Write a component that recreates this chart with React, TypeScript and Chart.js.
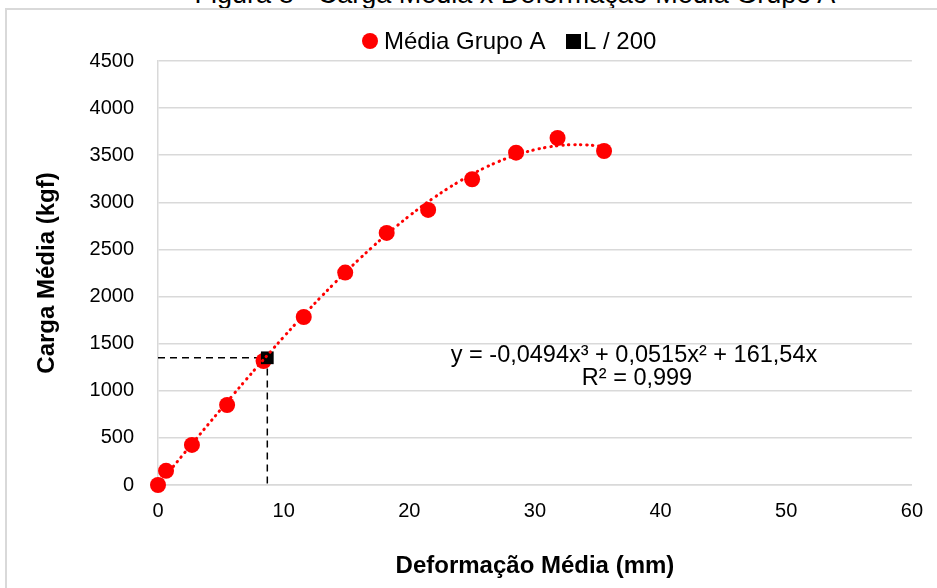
import React, { useEffect, useRef } from "react";
import { Chart, registerables } from "chart.js";

Chart.register(...registerables);

// Data
const deformacao = [0, 0.64, 2.7, 5.5, 8.4, 11.6, 14.9, 18.2, 21.5, 25.0, 28.5, 31.8, 35.5];
const carga = [0, 150, 425, 849, 1316, 1783, 2254, 2675, 2919, 3245, 3527, 3683, 3545];
const l200X = [8.7];
const l200Y = [1350];
// Trendline printed on the chart: y = -0,0494x³ + 0,0515x² + 161,54x
const trendCoeffs = [-0.0494, 0.0515, 161.54];
const trendXs = [0, 1, 2, 3, 4, 5, 6, 7, 8, 9, 10, 11, 12, 13, 14, 15, 16, 17, 18, 19, 20, 21, 22, 23, 24, 25, 26, 27, 28, 29, 30, 31, 32, 33, 34, 35, 35.5];
const xTicks = [0, 10, 20, 30, 40, 50, 60];
const yTicks = [0, 500, 1000, 1500, 2000, 2500, 3000, 3500, 4000, 4500];

const legendLabels = ["Média Grupo A", "L / 200"];
const equationText = "y = -0,0494x³ + 0,0515x² + 161,54x";
const r2Text = "R² = 0,999";
const titleText = "Figura 8 - Carga Média x Deformação Média Grupo A";

const FONT = "'Liberation Sans', Arial, sans-serif";

export default function App() {
  const ref = useRef<HTMLCanvasElement | null>(null);

  useEffect(() => {
    if (!ref.current) return;
    const mediaPts = deformacao.map((x, i) => ({ x, y: carga[i] }));
    const l200Pts = l200X.map((x, i) => ({ x, y: l200Y[i] }));
    const trendPts = trendXs.map((x) => ({
      x,
      y: trendCoeffs[0] * x * x * x + trendCoeffs[1] * x * x + trendCoeffs[2] * x,
    }));
    const guidePts = [
      { x: xTicks[0], y: l200Y[0] },
      { x: l200X[0], y: l200Y[0] },
      { x: l200X[0], y: yTicks[0] },
    ];

    const overlay = {
      id: "overlay",
      afterDraw(chart: any) {
        const ctx = chart.ctx;
        ctx.save();
        // legend
        ctx.fillStyle = "#ff0000";
        ctx.beginPath();
        ctx.arc(370, 41, 8, 0, Math.PI * 2);
        ctx.fill();
        ctx.fillStyle = "#000";
        ctx.font = `24px ${FONT}`;
        ctx.textBaseline = "middle";
        ctx.textAlign = "left";
        ctx.fillText(legendLabels[0], 384, 42);
        ctx.fillRect(566, 34, 15, 15);
        ctx.fillText(legendLabels[1], 583, 42);
        // equation
        ctx.font = `23.5px ${FONT}`;
        ctx.textAlign = "center";
        ctx.fillText(equationText, 634, 356);
        ctx.fillText(r2Text, 637, 379);
        ctx.restore();
      },
    };

    const chart = new Chart(ref.current, {
      type: "scatter",
      data: {
        datasets: [
          {
            label: "trend",
            data: trendPts,
            showLine: true,
            borderColor: "#ff0000",
            borderWidth: 3,
            borderDash: [0.5, 5.5],
            borderCapStyle: "round",
            pointRadius: 0,
            tension: 0.4,
            clip: false,
          },
          {
            label: legendLabels[1],
            data: l200Pts,
            pointStyle: "rect",
            pointRadius: 9,
            backgroundColor: "#000",
            borderColor: "#000",
            borderWidth: 0,
            clip: false,
          },
          {
            label: legendLabels[0],
            data: mediaPts,
            pointStyle: "circle",
            pointRadius: 8,
            backgroundColor: "#ff0000",
            borderColor: "#ff0000",
            borderWidth: 0,
            clip: false,
          },
          {
            label: "guide",
            data: guidePts,
            showLine: true,
            borderColor: "#000",
            borderWidth: 1.5,
            borderDash: [7, 5],
            pointRadius: 0,
            clip: false,
          },
        ],
      },
      options: {
        animation: false,
        responsive: false,
        layout: { padding: { top: 61, right: 24, left: 0, bottom: 0 } },
        plugins: { legend: { display: false }, tooltip: { enabled: false }, title: { display: false } },
        scales: {
          x: {
            type: "linear",
            min: xTicks[0],
            max: xTicks[xTicks.length - 1],
            afterBuildTicks: (s: any) => {
              s.ticks = xTicks.map((v) => ({ value: v }));
            },
            afterFit: (s: any) => {
              s.height = 103;
            },
            grid: { display: false, drawTicks: false },
            border: { display: true, color: "#d9d9d9", width: 1.5 },
            ticks: {
              padding: 14,
              color: "#000",
              font: { family: FONT, size: 20 },
              callback: (v: any) => String(v),
            },
            title: {
              display: true,
              text: "Deformação Média (mm)",
              color: "#000",
              font: { family: FONT, size: 24, weight: "bold" },
              padding: { top: 0, bottom: 7 },
            },
          },
          y: {
            type: "linear",
            min: yTicks[0],
            max: yTicks[yTicks.length - 1],
            afterBuildTicks: (s: any) => {
              s.ticks = yTicks.map((v) => ({ value: v }));
            },
            afterFit: (s: any) => {
              s.width = 158;
            },
            grid: { color: "#d9d9d9", lineWidth: 1.5, drawTicks: false },
            border: { display: true, color: "#d9d9d9", width: 1.5 },
            ticks: {
              padding: 24,
              color: "#000",
              font: { family: FONT, size: 20 },
              callback: (v: any) => String(v),
            },
            title: {
              display: true,
              text: "Carga Média (kgf)",
              color: "#000",
              font: { family: FONT, size: 24, weight: "bold" },
              padding: { top: 33, bottom: 0 },
            },
          },
        },
      },
      plugins: [overlay],
    } as any);

    return () => chart.destroy();
  }, []);

  return (
    <div style={{ position: "fixed", left: 0, top: 0, width: 937, height: 588, overflow: "hidden", background: "#fff" }}>
      <div
        style={{
          position: "absolute",
          left: 0,
          width: 1030,
          top: -19,
          textAlign: "center",
          fontFamily: FONT,
          fontSize: 27,
          lineHeight: "27px",
          color: "#000",
          whiteSpace: "nowrap",
        }}
      >
        {titleText}
      </div>
      <canvas ref={ref} width={937} height={588} style={{ position: "absolute", left: 0, top: 0, width: 937, height: 588 }} />
      <div
        style={{
          position: "absolute",
          left: 5,
          top: 8,
          width: 1000,
          height: 700,
          border: "2px solid #d9d9d9",
          boxSizing: "border-box",
          pointerEvents: "none",
        }}
      />
    </div>
  );
}
